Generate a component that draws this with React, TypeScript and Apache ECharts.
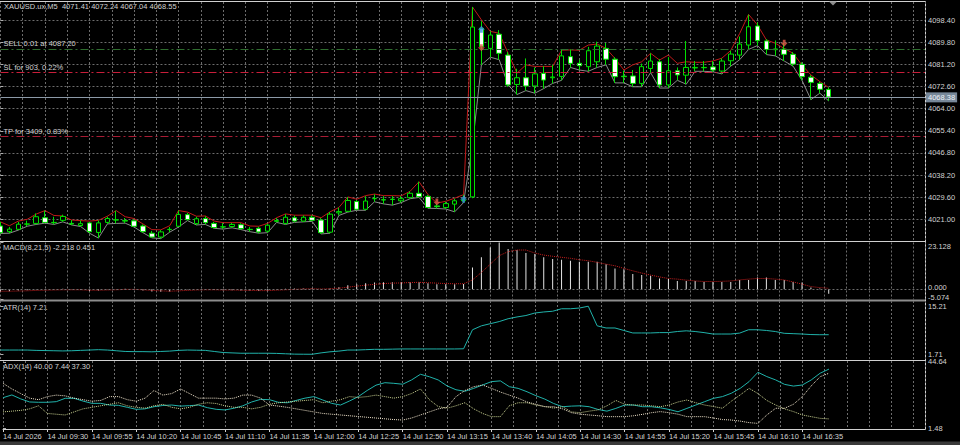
import React, { useEffect, useRef } from 'react';
import * as echarts from 'echarts';

// ---------- data ----------
const SYMBOL = 'XAUUSD.ux';
const PERIOD = 'M5';
const DATE_LABEL = '14 Jul 2026';
const DAY_LABEL = '14 Jul';
const START_MIN = 9 * 60 + 5;
const BAR_MIN = 5;

const opens = [
  4018.4, 4016.2, 4017.1, 4019.1, 4019.4, 4021.6, 4019.8, 4020.6, 4019.4, 4018.6,
  4019.6, 4015.9, 4019.8, 4020.7, 4020.5, 4020.4, 4018.4, 4015.6, 4014.1, 4017.0,
  4018.3, 4022.8, 4019.3, 4021.3, 4019.4, 4018.0, 4018.2, 4018.9, 4017.1, 4017.5,
  4016.4, 4020.2, 4019.4, 4021.6, 4020.3, 4021.8, 4020.7, 4016.0, 4023.5, 4024.1,
  4027.9, 4024.9, 4029.0, 4028.6, 4028.8, 4028.2, 4029.4, 4031.1, 4029.9, 4026.2,
  4025.6, 4026.9, 4028.2, 4029.7, 4095.2, 4087.4, 4092.9, 4084.8, 4073.4, 4076.0,
  4072.8, 4077.7, 4076.0, 4076.5, 4084.2, 4081.6, 4080.3, 4082.2, 4087.4, 4083.2,
  4076.6, 4076.7, 4073.8, 4079.6, 4082.2, 4073.2, 4078.7, 4077.0, 4079.8, 4080.0,
  4080.2, 4078.6, 4082.6, 4084.8, 4088.7, 4096.1, 4090.3, 4086.9, 4087.1, 4085.1,
  4081.2, 4076.2, 4073.8, 4071.41,
];
const highs = [
  4020.0, 4018.0, 4020.0, 4020.5, 4023.3, 4024.4, 4022.0, 4022.8, 4020.7, 4020.5,
  4020.0, 4020.5, 4022.0, 4024.3, 4021.5, 4021.0, 4019.0, 4016.5, 4016.8, 4018.0,
  4024.4, 4023.5, 4022.0, 4022.2, 4020.0, 4019.5, 4019.6, 4019.5, 4018.0, 4018.1,
  4019.2, 4021.5, 4023.0, 4022.5, 4022.5, 4022.5, 4021.5, 4023.8, 4025.5, 4029.6,
  4028.5, 4030.0, 4030.7, 4030.0, 4030.0, 4030.0, 4031.8, 4035.6, 4030.5, 4027.0,
  4027.8, 4029.0, 4030.5, 4103.5, 4098.0, 4094.0, 4094.5, 4086.0, 4079.5, 4083.5,
  4080.0, 4080.5, 4081.0, 4087.0, 4087.0, 4083.0, 4088.0, 4090.0, 4089.5, 4084.0,
  4078.8, 4079.0, 4081.5, 4085.5, 4083.2, 4084.0, 4080.0, 4090.3, 4082.5, 4082.5,
  4082.5, 4083.5, 4086.5, 4092.0, 4100.5, 4097.5, 4091.0, 4090.5, 4089.5, 4086.0,
  4082.0, 4077.0, 4074.5, 4072.24,
];
const lows = [
  4015.5, 4015.6, 4016.8, 4018.3, 4019.0, 4019.5, 4019.0, 4020.0, 4018.8, 4018.2,
  4015.6, 4013.7, 4019.2, 4019.4, 4019.5, 4018.0, 4015.8, 4013.8, 4013.5, 4016.0,
  4018.0, 4020.5, 4018.8, 4019.0, 4017.5, 4017.2, 4017.7, 4017.0, 4016.2, 4015.6,
  4015.8, 4019.8, 4019.0, 4019.8, 4020.0, 4020.2, 4015.3, 4015.6, 4022.5, 4023.8,
  4024.5, 4024.5, 4027.8, 4027.0, 4026.5, 4027.5, 4029.0, 4029.5, 4025.3, 4025.2,
  4025.0, 4023.9, 4027.5, 4029.2, 4081.0, 4084.0, 4083.0, 4072.5, 4069.5, 4071.0,
  4070.0, 4071.8, 4073.8, 4075.0, 4080.0, 4079.0, 4078.5, 4080.0, 4081.0, 4074.0,
  4074.0, 4072.5, 4072.5, 4078.0, 4072.0, 4072.0, 4075.0, 4073.5, 4078.5, 4078.5,
  4078.3, 4077.5, 4080.5, 4083.0, 4087.0, 4088.5, 4085.0, 4084.5, 4082.5, 4080.5,
  4075.0, 4067.5, 4070.0, 4067.04,
];
const closes = [
  4015.8, 4017.2, 4019.1, 4019.2, 4022.0, 4019.8, 4019.7, 4022.1, 4019.2, 4019.3,
  4016.2, 4019.6, 4021.3, 4020.8, 4020.3, 4018.3, 4016.2, 4014.1, 4016.1, 4017.1,
  4022.9, 4020.9, 4021.2, 4019.7, 4017.8, 4018.1, 4019.0, 4017.4, 4017.0, 4016.1,
  4018.7, 4020.5, 4021.8, 4020.3, 4021.8, 4020.6, 4015.8, 4023.0, 4024.0, 4028.3,
  4024.9, 4028.1, 4029.1, 4028.5, 4028.7, 4029.0, 4031.1, 4029.8, 4025.6, 4025.9,
  4027.1, 4028.2, 4028.6, 4095.7, 4088.1, 4092.6, 4085.5, 4073.2, 4076.0, 4072.8,
  4077.5, 4075.1, 4076.3, 4084.5, 4081.6, 4080.7, 4086.5, 4088.3, 4083.2, 4076.4,
  4076.4, 4073.8, 4080.3, 4082.5, 4073.2, 4078.7, 4077.1, 4080.0, 4080.0, 4079.9,
  4079.0, 4082.5, 4085.2, 4089.1, 4095.8, 4090.4, 4087.0, 4087.2, 4085.1, 4081.3,
  4076.4, 4074.2, 4071.5, 4068.55,
];
const upperLine = [
  4020.0, 4018.5, 4020.3, 4021.0, 4023.0, 4024.4, 4022.5, 4022.3, 4020.7, 4020.5,
  4020.3, 4020.6, 4022.2, 4024.4, 4022.0, 4021.3, 4019.2, 4017.0, 4016.9, 4018.5,
  4024.4, 4023.8, 4022.2, 4022.3, 4020.3, 4019.7, 4019.7, 4019.7, 4018.4, 4018.3,
  4019.4, 4021.6, 4023.1, 4022.6, 4022.6, 4022.6, 4021.6, 4023.9, 4025.6, 4029.7,
  4028.8, 4030.2, 4030.8, 4030.2, 4030.2, 4030.1, 4031.9, 4035.6, 4030.6, 4027.3,
  4028.0, 4029.2, 4030.6, 4103.5, 4098.5, 4094.0, 4093.3, 4085.5, 4077.8, 4081.0,
  4080.4, 4080.4, 4080.4, 4086.7, 4086.8, 4086.7, 4088.7, 4089.1, 4087.4, 4083.5,
  4079.0, 4081.0, 4082.2, 4085.5, 4082.9, 4084.8, 4081.6, 4082.2, 4082.0, 4082.0,
  4082.5, 4083.6, 4086.6, 4093.2, 4100.6, 4096.5, 4090.7, 4089.4, 4087.4, 4085.5,
  4080.9, 4077.1, 4074.5, 4072.2,
];
const lowerLine = [
  4015.5, 4015.6, 4016.8, 4018.3, 4019.0, 4019.5, 4019.0, 4020.0, 4018.8, 4018.2,
  4015.6, 4013.7, 4019.2, 4019.4, 4019.5, 4018.0, 4015.8, 4013.8, 4013.5, 4016.0,
  4018.0, 4020.5, 4018.8, 4019.0, 4017.5, 4017.2, 4017.7, 4017.0, 4016.2, 4015.6,
  4015.8, 4019.8, 4019.0, 4019.8, 4020.0, 4020.2, 4015.3, 4015.6, 4022.5, 4023.8,
  4024.5, 4024.5, 4027.8, 4027.0, 4026.5, 4027.5, 4029.0, 4029.5, 4025.3, 4025.2,
  4025.0, 4023.9, 4027.5, 4050.0, 4081.0, 4084.0, 4083.0, 4073.2, 4069.5, 4071.0,
  4070.0, 4071.8, 4073.8, 4075.0, 4080.0, 4079.0, 4078.5, 4080.0, 4081.0, 4074.0,
  4074.0, 4072.5, 4072.5, 4078.0, 4072.0, 4072.0, 4075.0, 4073.5, 4078.5, 4078.5,
  4078.3, 4077.5, 4080.5, 4083.0, 4087.0, 4088.5, 4085.0, 4084.5, 4082.5, 4080.5,
  4075.0, 4067.5, 4070.0, 4067.0,
];
const macdMain = [
  -1.2, -1.0, -0.7, -0.5, -0.2, 0.1, -0.1, 0.2, -0.2, -0.4,
  -0.9, -0.7, -0.2, 0.1, 0.2, -0.1, -0.6, -1.2, -1.3, -1.1,
  -0.4, -0.1, 0.0, -0.1, -0.4, -0.5, -0.5, -0.6, -0.7, -0.9,
  -0.6, -0.2, 0.2, 0.3, 0.4, 0.5, -0.2, 0.4, 1.0, 2.0,
  2.5, 2.9, 3.3, 3.4, 3.4, 3.4, 3.6, 3.5, 2.9, 2.5,
  2.4, 2.5, 2.6, 10.8, 15.8, 20.7, 23.128, 19.9, 19.4, 17.9,
  17.4, 15.8, 14.9, 14.6, 14.1, 13.6, 13.6, 13.6, 12.4, 10.3,
  9.9, 7.5, 7.0, 6.6, 5.3, 5.0, 4.1, 4.1, 4.1, 3.6,
  3.6, 3.6, 3.6, 4.6, 4.6, 5.8, 5.8, 4.6, 4.6, 3.6,
  3.3, 0.8, 0.3, -2.218,
];
const macdSignal = [
  -1.0, -1.0, -0.9, -0.8, -0.6, -0.5, -0.4, -0.3, -0.3, -0.3,
  -0.5, -0.5, -0.4, -0.3, -0.1, -0.1, -0.3, -0.6, -0.8, -1.0,
  -0.8, -0.6, -0.4, -0.3, -0.3, -0.4, -0.4, -0.5, -0.6, -0.7,
  -0.7, -0.5, -0.3, -0.1, 0.1, 0.2, 0.1, 0.2, 0.5, 1.0,
  1.5, 2.0, 2.4, 2.8, 3.0, 3.1, 3.3, 3.4, 3.2, 3.0,
  2.8, 2.7, 2.7, 4.6, 8.3, 12.4, 16.6, 18.6, 19.4, 19.4,
  17.9, 16.9, 16.3, 15.8, 15.3, 14.6, 14.1, 13.3, 12.4, 11.6,
  10.3, 9.1, 8.0, 7.0, 6.1, 5.3, 5.0, 4.5, 4.1, 3.8,
  3.8, 3.9, 4.1, 4.6, 5.0, 5.3, 5.3, 5.0, 4.6, 3.6,
  2.5, 1.3, 0.8, 0.451,
];
const atr = [
  2.9, 2.9, 2.9, 2.9, 2.8, 2.75, 2.7, 2.65, 2.7, 2.8,
  2.9, 3.0, 2.9, 2.7, 2.5, 2.45, 2.45, 2.4, 2.5, 2.6,
  2.8, 2.9, 2.85, 2.8, 2.5, 2.2, 2.1, 2.0, 2.0, 2.0,
  2.0, 1.95, 1.85, 1.75, 1.72, 1.71, 2.1, 2.4, 2.6, 2.9,
  2.9, 3.0, 3.1, 3.1, 3.15, 3.2, 3.2, 3.2, 3.2, 3.2,
  3.2, 3.2, 3.25, 8.6, 9.7, 10.3, 10.9, 11.7, 12.2, 12.6,
  13.3, 13.6, 13.8, 14.5, 14.5, 14.7, 15.21, 9.7, 9.1, 9.1,
  8.4, 7.7, 7.7, 7.7, 7.8, 7.8, 8.1, 8.3, 8.1, 7.8,
  7.4, 7.4, 7.4, 7.66, 8.6, 8.6, 8.4, 8.1, 7.6, 7.5,
  7.4, 7.25, 7.2, 7.21,
];
const adx = [
  21.3, 23.1, 20.5, 18.5, 18.3, 18.3, 18.7, 20.9, 20.9, 19.1,
  17.6, 17.6, 16.5, 16.3, 15.0, 13.7, 14.0, 15.4, 16.2, 16.5,
  15.8, 16.1, 16.5, 14.8, 13.7, 13.3, 14.4, 16.0, 18.5, 20.2,
  20.0, 18.3, 18.0, 19.5, 21.0, 22.0, 19.8, 17.6, 16.5, 19.1,
  22.0, 26.0, 29.5, 31.1, 30.7, 30.1, 32.9, 36.6, 35.0, 32.9,
  29.0, 26.5, 25.5, 27.4, 29.6, 31.8, 32.3, 28.5, 27.4, 25.2,
  22.6, 20.4, 17.5, 15.4, 15.8, 16.0, 15.4, 13.6, 12.5, 14.3,
  16.5, 16.5, 15.4, 15.4, 14.7, 13.6, 12.1, 14.3, 16.5, 18.7,
  20.9, 22.0, 24.2, 27.4, 31.8, 37.9, 35.1, 32.9, 30.0, 28.9,
  29.6, 32.9, 37.3, 40.0,
];
const plusDi = [
  12, 12.5, 13, 14, 16, 11, 10.5, 10, 12, 14,
  15, 16, 17, 18, 16, 15, 14.5, 16, 17, 15,
  14, 15, 17, 18, 17.5, 16, 15, 15, 14, 15,
  17, 18, 18.5, 19, 19.5, 20, 18, 19, 20, 22,
  21.5, 22, 23, 22, 21, 22, 24, 27, 20, 15.5,
  14.4, 16, 18, 14, 11, 8.9, 8.9, 16, 18, 18,
  16.5, 15.5, 14.5, 15.4, 12, 11.5, 12.5, 13.3, 16, 19.5,
  17, 16.5, 16.5, 16, 15.4, 16.5, 18.5, 19.8, 18, 16.5,
  15.5, 14.4, 19, 23.1, 27.4, 24, 19.5, 16.5, 14, 12.2,
  10, 8.9, 7.8, 7.44,
];
const minusDi = [
  30.7, 27, 24, 21, 20, 22, 23, 22.5, 21, 20,
  19, 19.5, 22, 22, 20, 19, 21, 26, 23, 24,
  27, 24, 21, 21, 21, 20.5, 21, 23, 23, 21,
  16.5, 15.8, 15, 14, 13, 12, 11, 10.5, 10, 9.5,
  9, 8.5, 8, 7.5, 7, 6.7, 8, 10, 12, 14,
  15, 22, 26, 28.5, 29.6, 27.4, 25, 23, 21, 18.5,
  17, 15.4, 15.4, 14, 11.5, 10.5, 10, 9.5, 8.9, 8.9,
  8.9, 9.5, 10.4, 11.5, 12.2, 11.5, 10.5, 8.9, 8.9, 8.9,
  8, 7, 6.7, 6.0, 5.0, 4.5, 10.0, 14.4, 14.4, 17,
  22, 29, 35, 37.3,
];

const priceTicks = [4021.0, 4029.6, 4038.2, 4046.8, 4055.4, 4064.0, 4072.6, 4081.2, 4089.8, 4098.4];
const timeTickBars = [0, 5, 10, 15, 20, 25, 30, 35, 40, 45, 50, 55, 60, 65, 70, 75, 80, 85, 90];
// order chosen so that the two close labels (0 and the minimum) are not neighbours in the list
const macdTicks = [0, 23.128, -5.074];
const atrTicks = [15.21, 1.71];
const adxTicks = [44.64, 1.48];

const bidPrice = 4068.38;
const sellLot = '0.01';
const sellPrice = 4087.2;
const slPrice = 4078.17;
const slText = 'SL for 903, 0.22%';
const tpPrice = 4053.11;
const tpText = 'TP for 3409, 0.83%';
const buyArrows = [[52, 4028.8], [54, 4094.8]];
const sellArrows = [[49, 4027.7], [54, 4087.7], [88, 4089.4]];

// ---------- style ----------
const FONT = 'Liberation Sans';
const FS = 7.5;
const TXT = '#d2d2d2';
const GRIDC = '#6c6c6c';
const DOT = [2, 2];
const FRAME = '#d0d0d0';
const X_MAX = 103.81;
const G_LEFT = 0.47;
const G_RIGHT = 35;

const pad2 = (n: number) => (n < 10 ? '0' : '') + n;
const timeLabel = (v: number) => {
  const i = Math.round(v);
  if (i === 0) return DATE_LABEL;
  const m = START_MIN + i * BAR_MIN;
  return `${DAY_LABEL} ${pad2(Math.floor(m / 60))}:${pad2(m % 60)}`;
};

const splitXAxis = (gridIndex: number) => ({
  type: 'value',
  gridIndex,
  min: 0,
  max: X_MAX,
  interval: 2.5,
  axisLine: { show: false },
  axisTick: { show: false },
  axisLabel: { show: false },
  splitLine: { show: true, lineStyle: { color: GRIDC, type: DOT, width: 1 } },
});

const labelStyle = { fontSize: FS, fontFamily: FONT, color: TXT };

const sideYAxis = (
  gridIndex: number,
  min: number,
  max: number,
  ticks: number[],
  digits: number,
  shift?: { top: number },
) => ({
  type: 'value',
  gridIndex,
  position: 'right',
  min,
  max,
  axisLine: { show: false },
  axisTick: { show: true, customValues: ticks, length: 3, lineStyle: { color: '#b0b0b0' } },
  axisLabel: {
    show: true,
    customValues: ticks,
    showMinLabel: true,
    showMaxLabel: true,
    hideOverlap: false,
    margin: 3,
    ...labelStyle,
    formatter: shift
      ? (v: number) => (v >= shift.top ? `{dn|${v.toFixed(digits)}}` : `{up|${v.toFixed(digits)}}`)
      : (v: number) => v.toFixed(digits),
    rich: shift
      ? {
          dn: { padding: [7, 0, 0, 0], ...labelStyle },
          up: { padding: [0, 0, 3, 0], ...labelStyle },
        }
      : undefined,
  },
  splitLine: { show: false },
});

const pts = (arr: number[]) => arr.map((v, i) => [i, v]);

const last = closes.length - 1;

export default function App() {
  const ref = useRef<HTMLDivElement>(null);
  useEffect(() => {
    if (!ref.current) return;
    const chart = echarts.init(ref.current, undefined, { renderer: 'svg' });

    const headerText = `${SYMBOL},${PERIOD}  ${opens[last].toFixed(2)} ${highs[last].toFixed(2)} ${lows[last].toFixed(2)} ${closes[last].toFixed(2)}`;
    const macdText = `MACD(8,21,5) ${macdMain[last].toFixed(3)} ${macdSignal[last].toFixed(3)}`;
    const atrText = `ATR(14) ${atr[last].toFixed(2)}`;
    const adxText = `ADX(14) ${adx[last].toFixed(2)} ${plusDi[last].toFixed(2)} ${minusDi[last].toFixed(2)}`;

    const txt = (x: number, y: number, text: string) => ({
      type: 'text',
      x,
      y,
      silent: true,
      style: { text, fill: TXT, font: `${FS}px ${FONT}`, verticalAlign: 'middle', align: 'left' },
    });
    const hline = (y: number, color: string, w = 1) => ({
      type: 'line',
      silent: true,
      shape: { x1: 0, y1: y, x2: 925.5, y2: y },
      style: { stroke: color, lineWidth: w },
    });

    const tradeLabel = (text: string) => ({
      show: true,
      position: 'insideStartTop',
      formatter: text,
      distance: [3, 1],
      ...labelStyle,
    });

    const option: any = {
      animation: false,
      backgroundColor: '#000000',
      grid: [
        { left: G_LEFT, right: G_RIGHT, top: 2, height: 239 },
        { left: G_LEFT, right: G_RIGHT, top: 242.5, height: 57 },
        { left: G_LEFT, right: G_RIGHT, top: 301, height: 58 },
        { left: G_LEFT, right: G_RIGHT, top: 361, height: 68 },
      ],
      xAxis: [
        splitXAxis(0),
        splitXAxis(1),
        splitXAxis(2),
        splitXAxis(3),
        {
          type: 'value',
          gridIndex: 3,
          position: 'bottom',
          min: 0,
          max: X_MAX,
          axisLine: { show: true, lineStyle: { color: FRAME } },
          axisTick: { show: true, customValues: timeTickBars, length: 3, lineStyle: { color: FRAME } },
          axisLabel: { show: true, customValues: timeTickBars, formatter: timeLabel, align: 'left', margin: 3, ...labelStyle },
          splitLine: { show: false },
        },
      ],
      yAxis: [
        {
          type: 'value',
          gridIndex: 0,
          position: 'right',
          min: 4012.57,
          max: 4105.43,
          axisLine: { show: false },
          axisTick: { show: true, customValues: priceTicks, length: 3, lineStyle: { color: '#b0b0b0' } },
          axisLabel: { show: true, customValues: priceTicks, margin: 3, formatter: (v: number) => v.toFixed(2), ...labelStyle },
          splitLine: { show: true, lineStyle: { color: GRIDC, type: DOT, width: 1 } },
        },
        sideYAxis(1, -5.1, 23.128, macdTicks, 3, { top: 20 }),
        sideYAxis(2, 0.38, 16.68, atrTicks, 2),
        sideYAxis(3, 0.83, 45.29, adxTicks, 2),
      ],
      series: [
        {
          type: 'line',
          xAxisIndex: 0,
          yAxisIndex: 0,
          data: pts(upperLine),
          symbol: 'none',
          z: 2,
          lineStyle: { color: '#c01a1a', width: 1 },
        },
        {
          type: 'line',
          xAxisIndex: 0,
          yAxisIndex: 0,
          data: pts(lowerLine),
          symbol: 'none',
          z: 2,
          lineStyle: { color: '#8a8a8a', width: 1 },
        },
        {
          type: 'candlestick',
          xAxisIndex: 0,
          yAxisIndex: 0,
          z: 3,
          barWidth: 5,
          data: closes.map((c, i) => [i, opens[i], c, lows[i], highs[i]]),
          encode: { x: 0, y: [1, 2, 3, 4] },
          itemStyle: {
            color: '#000000',
            color0: '#ffffff',
            borderColor: '#00e000',
            borderColor0: '#00e000',
            borderWidth: 1,
          },
          markLine: {
            silent: true,
            symbol: ['none', 'none'],
            animation: false,
            data: [
              {
                yAxis: sellPrice,
                lineStyle: { color: '#2f6e2f', type: [8, 3, 2, 3], width: 1 },
                label: tradeLabel(`SELL ${sellLot} at ${sellPrice.toFixed(2)}`),
              },
              {
                yAxis: slPrice,
                lineStyle: { color: '#c81e3a', type: [8, 3, 2, 3], width: 1 },
                label: tradeLabel(slText),
              },
              {
                yAxis: tpPrice,
                lineStyle: { color: '#a81c34', type: [8, 3, 2, 3], width: 1 },
                label: tradeLabel(tpText),
              },
              {
                yAxis: bidPrice,
                lineStyle: { color: '#8c9aa8', type: 'solid', width: 1 },
                label: {
                  show: true,
                  position: 'end',
                  formatter: bidPrice.toFixed(2),
                  distance: 1,
                  backgroundColor: '#778899',
                  padding: [1, 2, 1, 2],
                  ...labelStyle,
                  color: '#eef2f6',
                },
              },
            ],
          },
        },
        {
          type: 'scatter',
          xAxisIndex: 0,
          yAxisIndex: 0,
          z: 5,
          data: buyArrows,
          symbol: 'path://M5 0 L10 5 L7 5 L7 9 L3 9 L3 5 L0 5 Z',
          symbolSize: [7, 7],
          itemStyle: { color: '#3a8fe0' },
        },
        {
          type: 'scatter',
          xAxisIndex: 0,
          yAxisIndex: 0,
          z: 5,
          data: sellArrows,
          symbol: 'path://M3 0 L7 0 L7 4 L10 4 L5 9 L0 4 L3 4 Z',
          symbolSize: [7, 7],
          itemStyle: { color: '#e25b4b' },
        },
        {
          type: 'bar',
          xAxisIndex: 1,
          yAxisIndex: 1,
          data: pts(macdMain),
          barWidth: 1,
          itemStyle: { color: '#e6e6e6' },
        },
        {
          type: 'line',
          xAxisIndex: 1,
          yAxisIndex: 1,
          data: pts(macdSignal),
          symbol: 'none',
          lineStyle: { color: '#c81e1e', width: 1, type: 'dotted' },
          markLine: {
            silent: true,
            symbol: ['none', 'none'],
            label: { show: false },
            data: [{ yAxis: 0 }],
            lineStyle: { color: GRIDC, type: DOT, width: 1 },
          },
        },
        {
          type: 'line',
          xAxisIndex: 2,
          yAxisIndex: 2,
          data: pts(atr),
          symbol: 'none',
          lineStyle: { color: '#20b2aa', width: 1 },
        },
        {
          type: 'line',
          xAxisIndex: 3,
          yAxisIndex: 3,
          data: pts(adx),
          symbol: 'none',
          lineStyle: { color: '#20b2aa', width: 1 },
        },
        {
          type: 'line',
          xAxisIndex: 3,
          yAxisIndex: 3,
          data: pts(plusDi),
          symbol: 'none',
          lineStyle: { color: '#c8d090', width: 1, type: 'dotted' },
        },
        {
          type: 'line',
          xAxisIndex: 3,
          yAxisIndex: 3,
          data: pts(minusDi),
          symbol: 'none',
          lineStyle: { color: '#f0e4cc', width: 1, type: 'dotted' },
        },
      ],
      graphic: [
        { type: 'rect', silent: true, shape: { x: 0, y: 441.5, width: 960, height: 4 }, style: { fill: '#3a3a3a' } },
        hline(1.5, FRAME),
        hline(241.5, FRAME),
        hline(300.5, '#8c8c8c', 2),
        hline(360.5, FRAME),
        {
          type: 'line',
          silent: true,
          shape: { x1: 925.5, y1: 1.5, x2: 925.5, y2: 429.5 },
          style: { stroke: FRAME, lineWidth: 1 },
        },
        {
          type: 'polygon',
          silent: true,
          shape: { points: [[829, 1.5], [837, 1.5], [833, 5.5]] },
          style: { fill: '#8c8c8c' },
        },
        txt(4, 6.5, headerText),
        txt(3, 247.5, macdText),
        txt(3, 307, atrText),
        txt(3, 366.5, adxText),
      ],
    };

    chart.setOption(option);
    return () => chart.dispose();
  }, []);

  return (
    <div
      ref={ref}
      style={{ position: 'fixed', left: 0, top: 0, width: 960, height: 445, background: '#000' }}
    />
  );
}
